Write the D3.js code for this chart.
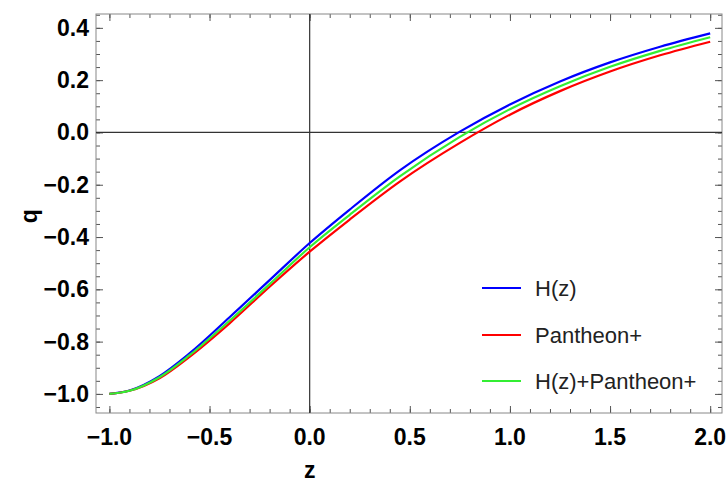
<!DOCTYPE html>
<html lang="en">
	<head>
		<meta charset="utf-8">
		<title>q(z)</title>
		<script type="text/javascript" src="https://cdn.jsdelivr.net/npm/d3@7"></script>
		<style>
			body { margin: 0; background: #fff; }
			text { font-family: "Liberation Sans", Arial, sans-serif; }
		</style>
	</head>

	<body>

		<script type="text/javascript">
			var width = 728
			var height = 482

			// redshift samples and deceleration parameter
			var zVals      = [-1.0, -0.9, -0.75, -0.6, -0.4, -0.2, 0.0, 0.2, 0.45, 0.75, 1.0, 1.25, 1.5, 1.75, 2.0]
			var qHz        = [-1.0, -0.987, -0.932, -0.845, -0.707, -0.565, -0.423, -0.295, -0.145, 0.003, 0.107, 0.195, 0.268, 0.328, 0.379]
			var qPantheon  = [-1.0, -0.988, -0.94, -0.858, -0.73, -0.59, -0.456, -0.333, -0.188, -0.04, 0.068, 0.158, 0.233, 0.295, 0.347]
			var qCombined  = [-1.0, -0.988, -0.936, -0.852, -0.72, -0.58, -0.439, -0.315, -0.168, -0.017, 0.089, 0.177, 0.251, 0.312, 0.364]

			var seriesNames  = ["H(z)", "Pantheon+", "H(z)+Pantheon+"]
			var seriesColors = ["#0000ff", "#ff0000", "#33ee33"]

			var xTicks = [-1.0, -0.5, 0.0, 0.5, 1.0, 1.5, 2.0]
			var yTicks = [-1.0, -0.8, -0.6, -0.4, -0.2, 0.0, 0.2, 0.4]

			// plot frame in pixels
			var pL = 96, pR = 722, pT = 14, pB = 413

			var svg = d3.select("body").append("svg").attr("width", width).attr("height", height)

			var x = d3.scaleLinear().domain([-1.067, 2.059]).range([pL, pR])
			var y = d3.scaleLinear().domain([-1.073, 0.453]).range([pB, pT])

			var xMinor = d3.range(-10, 21).map(function(d) { return d / 10 })
			var yMinor = d3.range(-21, 10).map(function(d) { return d / 20 })

			var fmt = function(d) { return d3.format(".1f")(d).replace("-", "\u2212") }

			// frame ticks, pointing inward on all four sides
			function ticks(axis, scale, vals, size, tr) {
				var g = svg.append("g").attr("transform", tr)
					.call(axis(scale).tickValues(vals).tickSize(-size).tickFormat(""))
				g.select(".domain").remove()
				g.selectAll("line").attr("stroke", "#555")
			}
			ticks(d3.axisBottom, x, xMinor, 4, "translate(0," + pB + ")")
			ticks(d3.axisBottom, x, xTicks, 7, "translate(0," + pB + ")")
			ticks(d3.axisTop, x, xMinor, 4, "translate(0," + pT + ")")
			ticks(d3.axisTop, x, xTicks, 7, "translate(0," + pT + ")")
			ticks(d3.axisLeft, y, yMinor, 4, "translate(" + pL + ",0)")
			ticks(d3.axisLeft, y, yTicks, 7, "translate(" + pL + ",0)")
			ticks(d3.axisRight, y, yMinor, 4, "translate(" + pR + ",0)")
			ticks(d3.axisRight, y, yTicks, 7, "translate(" + pR + ",0)")

			svg.append("rect")
				.attr("x", pL).attr("y", pT)
				.attr("width", pR - pL).attr("height", pB - pT)
				.attr("fill", "none").attr("stroke", "#888").attr("stroke-width", 1)

			// tick labels
			svg.selectAll(".xl").data(xTicks).enter().append("text")
				.attr("x", function(d) { return x(d) })
				.attr("y", 445)
				.attr("text-anchor", "middle")
				.style("font-size", "23px").style("font-weight", "bold")
				.text(fmt)

			svg.selectAll(".yl").data(yTicks).enter().append("text")
				.attr("x", 89)
				.attr("y", function(d) { return y(d) + 8 })
				.attr("text-anchor", "end")
				.style("font-size", "23px").style("font-weight", "bold")
				.text(fmt)

			svg.append("text")
				.attr("x", x(0)).attr("y", 478)
				.attr("text-anchor", "middle")
				.style("font-size", "23px").style("font-weight", "bold")
				.text("z")

			svg.append("text")
				.attr("transform", "translate(37," + y(-0.32) + ") rotate(-90)")
				.attr("text-anchor", "middle")
				.style("font-size", "23px").style("font-weight", "bold")
				.text("q")

			// zero lines
			svg.append("line")
				.attr("x1", x(0)).attr("x2", x(0)).attr("y1", pT).attr("y2", pB)
				.attr("stroke", "#333").attr("stroke-width", 1.2)
			svg.append("line")
				.attr("x1", pL).attr("x2", pR).attr("y1", y(0)).attr("y2", y(0))
				.attr("stroke", "#333").attr("stroke-width", 1.2)

			// curves
			var line = d3.line()
				.x(function(d) { return x(d[0]) })
				.y(function(d) { return y(d[1]) })
				.curve(d3.curveMonotoneX)

			var allSeries = [qHz, qPantheon, qCombined]
			allSeries.forEach(function(vals, i) {
				svg.append("path")
					.datum(zVals.map(function(z, j) { return [z, vals[j]] }))
					.attr("d", line)
					.attr("fill", "none")
					.attr("stroke", seriesColors[i])
					.attr("stroke-width", 2.2)
			})

			// legend
			var legY = [288, 335, 381]
			seriesNames.forEach(function(name, i) {
				svg.append("line")
					.attr("x1", 482).attr("x2", 521).attr("y1", legY[i]).attr("y2", legY[i])
					.attr("stroke", seriesColors[i]).attr("stroke-width", 2)
				svg.append("text")
					.attr("x", 535).attr("y", legY[i] + 8)
					.style("font-size", "22px").style("fill", "#222")
					.text(name)
			})
		</script>
	</body>
</html>
